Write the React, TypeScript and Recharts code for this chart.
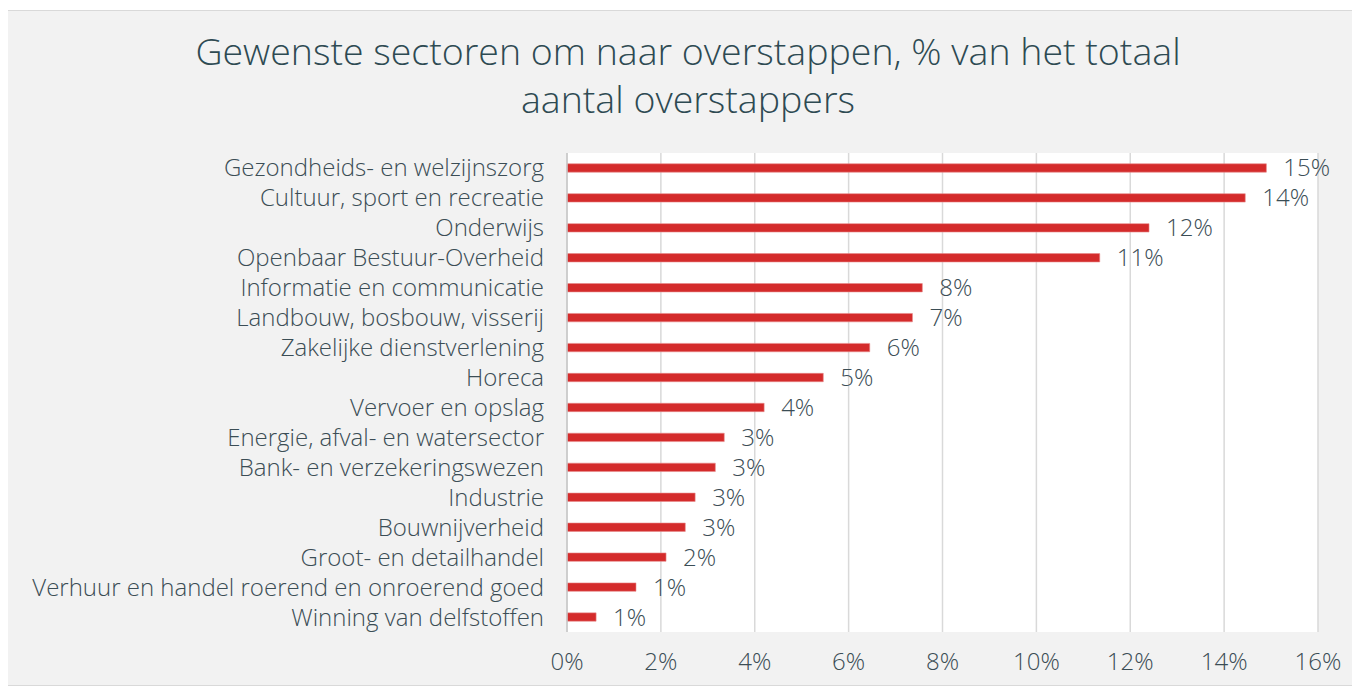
import { BarChart, Bar, XAxis, YAxis, CartesianGrid, LabelList } from "recharts";

const sectors = [
  "Gezondheids- en welzijnszorg",
  "Cultuur, sport en recreatie",
  "Onderwijs",
  "Openbaar Bestuur-Overheid",
  "Informatie en communicatie",
  "Landbouw, bosbouw, visserij",
  "Zakelijke dienstverlening",
  "Horeca",
  "Vervoer en opslag",
  "Energie, afval- en watersector",
  "Bank- en verzekeringswezen",
  "Industrie",
  "Bouwnijverheid",
  "Groot- en detailhandel",
  "Verhuur en handel roerend en onroerend goed",
  "Winning van delfstoffen",
];

const shares = [14.9, 14.45, 12.4, 11.35, 7.57, 7.36, 6.45, 5.46, 4.2, 3.35, 3.16, 2.73, 2.52, 2.11, 1.47, 0.62];

const xTicks = [0, 2, 4, 6, 8, 10, 12, 14, 16];

const data = sectors.map((name, i) => ({ name, value: shares[i] }));

const TEXT = "#3b4d55";
const FONT = "'Open Sans', Lato, sans-serif";
const tickStyle = { fill: TEXT, fontSize: 24, fontWeight: 300, fontFamily: FONT };

export default function App() {
  return (
    <div
      style={{
        position: "relative",
        marginLeft: -1,
        marginTop: 2,
        width: 1362,
        height: 674,
        background: "#f2f2f2",
        border: "1px solid #d9d9d9",
        fontFamily: FONT,
        overflow: "hidden",
      }}
    >
      <div
        style={{
          position: "absolute",
          top: 16,
          left: 0,
          width: 1360,
          textAlign: "center",
          fontSize: 37.5,
          fontWeight: 300,
          lineHeight: "48px",
          color: "#2e4a52",
        }}
      >
        Gewenste sectoren om naar overstappen, % van het totaal
        <br />
        aantal overstappers
      </div>
      <div style={{ position: "absolute", top: 0, left: 0 }}>
        <BarChart
          width={1360}
          height={674}
          data={data}
          layout="vertical"
          margin={{ top: 142, right: 50, bottom: 0, left: 0 }}
          barCategoryGap="64%"
        >
          <CartesianGrid horizontal={false} stroke="#d9d9d9" strokeWidth={1.5} fill="#ffffff" />
          <XAxis
            type="number"
            domain={[0, 16]}
            ticks={xTicks}
            tickFormatter={(v) => `${v}%`}
            axisLine={false}
            tickLine={false}
            tickMargin={15}
            height={53}
            tick={tickStyle}
          />
          <YAxis
            type="category"
            dataKey="name"
            width={559}
            interval={0}
            axisLine={{ stroke: "#c8c8c8", strokeWidth: 1.5 }}
            tickLine={false}
            tickMargin={17}
            tick={tickStyle}
          />
          <Bar dataKey="value" fill="#d42b2b" stroke="#e8898a" strokeWidth={0.6} isAnimationActive={false}>
            <LabelList
              dataKey="value"
              position="right"
              offset={17}
              formatter={(v: number) => `${Math.round(v)}%`}
              style={tickStyle}
            />
          </Bar>
        </BarChart>
      </div>
    </div>
  );
}
